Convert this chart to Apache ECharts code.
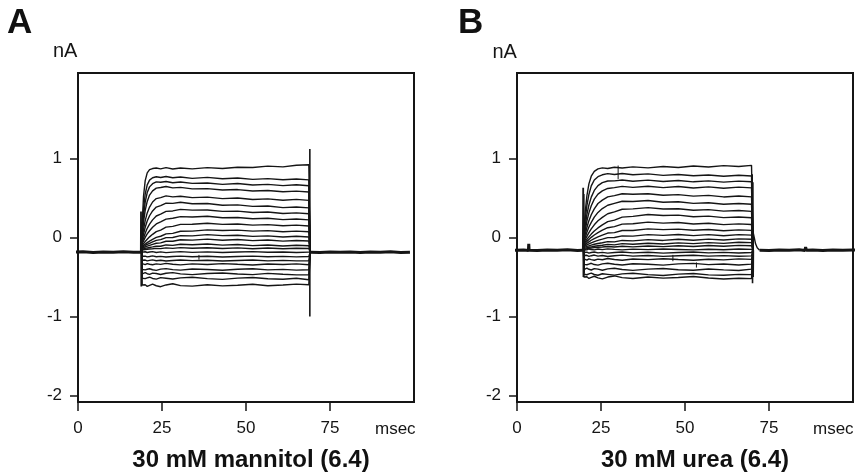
<!DOCTYPE html>
<html><head><meta charset="utf-8">
<script src="https://cdn.jsdelivr.net/npm/echarts@6/dist/echarts.min.js"></script>
<style>html,body{margin:0;padding:0;background:#fff}#c{width:857px;height:476px}</style>
</head><body><div id="c"></div>
<script>
const FONT = '"Liberation Sans", Arial, Helvetica, sans-serif';
const INK = '#151515';

// ---- axes ----
const yTicks = [-2, -1, 0, 1];
const xTicks = [0, 25, 50, 75];
const yRange = [-2.08, 2.08];
const xRange = [0, 100];
const panelLetters = ['A', 'B'];
const panelTitles = ['30 mM mannitol (6.4)', '30 mM urea (6.4)'];
const yUnit = 'nA';
const xUnit = 'msec';

// ---- Panel A (30 mM mannitol) ----
const pulseA = [19.0, 69.1];
const holdA = -0.185;
const timesA = [19.1, 19.5, 20, 20.6, 21.3, 22.2, 23.3, 24.6, 26.2, 28.2, 30.5, 34, 38.5, 43, 47.5, 52, 56.5, 61, 65, 68.7];
const tracesA = [
  [0.17, 0.52, 0.72, 0.817, 0.858, 0.872, 0.878, 0.868, 0.884, 0.866, 0.878, 0.868, 0.884, 0.872, 0.889, 0.886, 0.902, 0.893, 0.914, 0.92],
  [0.11, 0.365, 0.55, 0.665, 0.725, 0.755, 0.768, 0.758, 0.772, 0.755, 0.765, 0.748, 0.76, 0.743, 0.753, 0.735, 0.745, 0.73, 0.74, 0.728],
  [0.07, 0.277, 0.447, 0.568, 0.64, 0.68, 0.703, 0.698, 0.708, 0.692, 0.702, 0.684, 0.69, 0.672, 0.683, 0.664, 0.672, 0.656, 0.667, 0.655],
  [0.027, 0.194, 0.342, 0.456, 0.536, 0.59, 0.625, 0.632, 0.645, 0.628, 0.634, 0.615, 0.618, 0.6, 0.606, 0.588, 0.595, 0.578, 0.587, 0.575],
  [-0.005, 0.104, 0.213, 0.311, 0.385, 0.449, 0.492, 0.505, 0.526, 0.514, 0.522, 0.504, 0.51, 0.492, 0.5, 0.481, 0.489, 0.471, 0.482, 0.47],
  [-0.04, 0.043, 0.13, 0.208, 0.275, 0.336, 0.385, 0.404, 0.434, 0.432, 0.446, 0.426, 0.43, 0.408, 0.413, 0.393, 0.398, 0.378, 0.386, 0.375],
  [-0.064, -0.009, 0.054, 0.116, 0.169, 0.223, 0.272, 0.295, 0.33, 0.336, 0.356, 0.346, 0.348, 0.33, 0.334, 0.316, 0.322, 0.304, 0.311, 0.3],
  [-0.079, -0.043, 0.001, 0.045, 0.085, 0.129, 0.171, 0.197, 0.233, 0.243, 0.264, 0.259, 0.268, 0.249, 0.253, 0.238, 0.243, 0.226, 0.234, 0.223],
  [-0.104, -0.078, -0.051, -0.022, 0.008, 0.04, 0.075, 0.094, 0.131, 0.141, 0.166, 0.167, 0.181, 0.166, 0.171, 0.157, 0.163, 0.148, 0.156, 0.145],
  [-0.116, -0.1, -0.083, -0.065, -0.045, -0.023, 0.001, 0.016, 0.046, 0.052, 0.079, 0.08, 0.097, 0.088, 0.093, 0.08, 0.087, 0.073, 0.081, 0.072],
  [-0.127, -0.115, -0.101, -0.088, -0.073, -0.056, -0.037, -0.027, -0.002, 0.0, 0.023, 0.021, 0.037, 0.024, 0.029, 0.014, 0.021, 0.006, 0.015, 0.006],
  [-0.138, -0.129, -0.12, -0.11, -0.099, -0.087, -0.073, -0.068, -0.047, -0.048, -0.029, -0.033, -0.02, -0.034, -0.026, -0.04, -0.032, -0.046, -0.037, -0.045],
  [-0.149, -0.144, -0.138, -0.132, -0.126, -0.119, -0.11, -0.11, -0.094, -0.099, -0.085, -0.092, -0.083, -0.097, -0.089, -0.103, -0.094, -0.107, -0.098, -0.105],
  [-0.158, -0.155, -0.152, -0.148, -0.145, -0.142, -0.137, -0.141, -0.131, -0.137, -0.128, -0.136, -0.129, -0.14, -0.131, -0.142, -0.133, -0.143, -0.135, -0.14],
  [-0.183, -0.188, -0.18, -0.19, -0.184, -0.178, -0.189, -0.182, -0.191, -0.185, -0.179, -0.188, -0.182, -0.19, -0.184, -0.178, -0.187, -0.183, -0.19, -0.185],
  [-0.238, -0.242, -0.236, -0.245, -0.24, -0.233, -0.244, -0.238, -0.247, -0.24, -0.236, -0.243, -0.238, -0.246, -0.24, -0.235, -0.243, -0.239, -0.245, -0.24],
  [-0.288, -0.292, -0.285, -0.296, -0.29, -0.283, -0.294, -0.288, -0.297, -0.29, -0.284, -0.293, -0.287, -0.298, -0.29, -0.285, -0.295, -0.289, -0.296, -0.294],
  [-0.33, -0.337, -0.342, -0.33, -0.338, -0.345, -0.333, -0.34, -0.327, -0.338, -0.346, -0.334, -0.341, -0.33, -0.339, -0.347, -0.336, -0.342, -0.333, -0.345],
  [-0.405, -0.398, -0.41, -0.402, -0.395, -0.408, -0.415, -0.4, -0.393, -0.406, -0.412, -0.399, -0.404, -0.414, -0.401, -0.396, -0.409, -0.403, -0.412, -0.408],
  [-0.46, -0.452, -0.445, -0.458, -0.466, -0.45, -0.455, -0.468, -0.452, -0.444, -0.46, -0.47, -0.455, -0.448, -0.462, -0.469, -0.454, -0.465, -0.473, -0.471],
  [-0.515, -0.506, -0.52, -0.51, -0.502, -0.518, -0.526, -0.508, -0.515, -0.525, -0.51, -0.503, -0.52, -0.53, -0.514, -0.506, -0.522, -0.528, -0.516, -0.534],
  [-0.6, -0.612, -0.598, -0.618, -0.605, -0.59, -0.61, -0.622, -0.6, -0.585, -0.608, -0.615, -0.598, -0.612, -0.603, -0.592, -0.61, -0.6, -0.59, -0.597]
];
const basePreA = [[-1.6, -0.185], [1.5, -0.181], [4.5, -0.189], [7.5, -0.183], [10.5, -0.188], [13.5, -0.181], [16.5, -0.187], [18.8, -0.185]];
const basePostA = [[69.1, -0.185], [72, -0.189], [75, -0.182], [78, -0.188], [81, -0.183], [84, -0.19], [87, -0.183], [90, -0.187], [93, -0.181], [96, -0.189], [98.8, -0.185]];
const onsetA = [[18.7, -0.185], [18.75, 0.33], [18.85, -0.62], [18.95, 0.2], [19.0, -0.5], [19.05, -0.185]];
const offsetA = [[69.0, 1.12], [69.0, -1.0]];
const artifactsA = [[36.0, -0.22, -0.28]];

// ---- Panel B (30 mM urea) ----
const pulseB = [19.8, 70.3];
const holdB = -0.16;
const timesB = [19.9, 20.3, 20.8, 21.4, 22.1, 23, 24.1, 25.4, 27, 29, 31.3, 34.5, 39, 43.5, 48, 52.5, 57, 61.5, 66, 69.8];
const tracesB = [
  [0.077, 0.323, 0.528, 0.678, 0.775, 0.836, 0.867, 0.88, 0.872, 0.889, 0.878, 0.893, 0.88, 0.898, 0.886, 0.904, 0.892, 0.909, 0.898, 0.912],
  [0.037, 0.229, 0.403, 0.544, 0.652, 0.727, 0.769, 0.793, 0.808, 0.796, 0.81, 0.793, 0.804, 0.786, 0.797, 0.78, 0.791, 0.775, 0.787, 0.778],
  [0.001, 0.144, 0.289, 0.411, 0.511, 0.595, 0.656, 0.694, 0.714, 0.716, 0.727, 0.712, 0.725, 0.708, 0.72, 0.704, 0.716, 0.7, 0.713, 0.705],
  [-0.019, 0.089, 0.207, 0.311, 0.402, 0.485, 0.548, 0.589, 0.62, 0.631, 0.647, 0.634, 0.648, 0.63, 0.644, 0.626, 0.64, 0.623, 0.637, 0.628],
  [-0.038, 0.039, 0.126, 0.213, 0.287, 0.362, 0.43, 0.473, 0.514, 0.53, 0.553, 0.546, 0.554, 0.534, 0.542, 0.523, 0.533, 0.513, 0.525, 0.514],
  [-0.054, 0.001, 0.066, 0.132, 0.192, 0.257, 0.317, 0.366, 0.408, 0.432, 0.458, 0.456, 0.467, 0.446, 0.452, 0.432, 0.44, 0.42, 0.43, 0.42],
  [-0.071, -0.028, 0.014, 0.061, 0.108, 0.16, 0.211, 0.254, 0.3, 0.324, 0.357, 0.362, 0.378, 0.36, 0.364, 0.345, 0.352, 0.333, 0.341, 0.33],
  [-0.082, -0.055, -0.024, 0.008, 0.043, 0.082, 0.121, 0.16, 0.2, 0.22, 0.258, 0.267, 0.291, 0.278, 0.283, 0.263, 0.27, 0.251, 0.26, 0.25],
  [-0.094, -0.073, -0.049, -0.025, 0.002, 0.032, 0.062, 0.092, 0.124, 0.137, 0.169, 0.173, 0.194, 0.182, 0.189, 0.171, 0.18, 0.163, 0.172, 0.165],
  [-0.106, -0.09, -0.073, -0.055, -0.035, -0.013, 0.009, 0.031, 0.056, 0.062, 0.089, 0.089, 0.109, 0.099, 0.106, 0.091, 0.101, 0.086, 0.097, 0.09],
  [-0.117, -0.106, -0.094, -0.081, -0.067, -0.052, -0.036, -0.021, -0.002, 0.0, 0.021, 0.018, 0.036, 0.027, 0.038, 0.024, 0.036, 0.022, 0.036, 0.03],
  [-0.128, -0.121, -0.113, -0.105, -0.096, -0.086, -0.076, -0.066, -0.052, -0.055, -0.037, -0.043, -0.027, -0.037, -0.023, -0.034, -0.02, -0.031, -0.017, -0.022],
  [-0.139, -0.134, -0.129, -0.124, -0.118, -0.111, -0.105, -0.098, -0.087, -0.093, -0.078, -0.086, -0.072, -0.082, -0.068, -0.078, -0.065, -0.074, -0.06, -0.065],
  [-0.148, -0.144, -0.14, -0.136, -0.132, -0.128, -0.124, -0.121, -0.113, -0.12, -0.11, -0.118, -0.108, -0.116, -0.104, -0.113, -0.102, -0.111, -0.099, -0.105],
  [-0.152, -0.147, -0.155, -0.145, -0.151, -0.157, -0.146, -0.153, -0.144, -0.15, -0.156, -0.147, -0.153, -0.145, -0.151, -0.157, -0.148, -0.154, -0.146, -0.15],
  [-0.188, -0.194, -0.185, -0.197, -0.19, -0.183, -0.195, -0.188, -0.198, -0.19, -0.184, -0.194, -0.187, -0.197, -0.19, -0.184, -0.195, -0.188, -0.196, -0.19],
  [-0.228, -0.235, -0.225, -0.238, -0.23, -0.222, -0.236, -0.228, -0.24, -0.23, -0.223, -0.235, -0.227, -0.239, -0.23, -0.224, -0.236, -0.229, -0.238, -0.232],
  [-0.27, -0.28, -0.286, -0.27, -0.279, -0.288, -0.273, -0.281, -0.266, -0.278, -0.287, -0.272, -0.28, -0.268, -0.279, -0.288, -0.275, -0.283, -0.27, -0.276],
  [-0.34, -0.33, -0.345, -0.336, -0.326, -0.342, -0.35, -0.333, -0.325, -0.338, -0.347, -0.332, -0.338, -0.349, -0.334, -0.327, -0.343, -0.336, -0.347, -0.337],
  [-0.405, -0.396, -0.388, -0.402, -0.411, -0.394, -0.4, -0.414, -0.397, -0.388, -0.405, -0.416, -0.4, -0.392, -0.407, -0.415, -0.399, -0.41, -0.418, -0.4],
  [-0.465, -0.455, -0.471, -0.46, -0.451, -0.468, -0.477, -0.458, -0.466, -0.476, -0.46, -0.452, -0.47, -0.48, -0.463, -0.455, -0.472, -0.478, -0.466, -0.47],
  [-0.5, -0.513, -0.497, -0.518, -0.505, -0.49, -0.51, -0.523, -0.5, -0.486, -0.508, -0.518, -0.5, -0.514, -0.505, -0.494, -0.512, -0.525, -0.515, -0.52]
];
const basePreB = [[-0.7, -0.16], [2, -0.157], [3.4, -0.163], [3.5, -0.08], [3.6, -0.16], [6, -0.164], [9, -0.157], [12, -0.162], [15, -0.156], [18, -0.163], [19.6, -0.16]];
const basePostB = [[72.2, -0.16], [75, -0.163], [78, -0.157], [81, -0.162], [84, -0.156], [85.7, -0.163], [85.9, -0.12], [86.1, -0.16], [88, -0.158], [91, -0.163], [94, -0.157], [97, -0.162], [100, -0.158], [101.5, -0.16]];
const onsetB = [[19.6, -0.16], [19.7, 0.63], [19.78, -0.5], [19.86, 0.55], [19.94, -0.45], [20.0, -0.16]];
const offsetB = [[70.0, 0.8], [70.1, -0.58], [70.2, 0.7], [70.3, -0.5], [70.35, -0.16]];
const tailB = [[70.3, 0.06], [70.6, 0.0], [71.0, -0.08], [71.5, -0.13], [72.2, -0.16]];
const artifactsB = [[30.1, 0.91, 0.74], [46.4, -0.22, -0.3], [53.4, -0.315, -0.38]];

// ---- build ----
function lineSeries(g, data, width, clip) {
  return { type: 'line', xAxisIndex: g, yAxisIndex: g, data: data, symbol: 'none',
    lineStyle: { width: width, color: INK }, silent: true, animation: false, clip: clip !== false, z: 3 };
}
function panelSeries(g, times, traces, pulse, hold, pre, post, onset, offset, extra, artifacts) {
  const out = [];
  traces.forEach(vals => {
    const d = [[pulse[0], hold]];
    times.forEach((t, i) => d.push([t, vals[i]]));
    d.push([pulse[1], hold]);
    out.push(lineSeries(g, d, 1.4));
  });
  out.push(lineSeries(g, pre, 3, false));
  out.push(lineSeries(g, post, 3, false));
  out.push(lineSeries(g, onset, 1.8));
  out.push(lineSeries(g, offset, 1.6));
  extra.forEach(e => out.push(lineSeries(g, e, 1.4)));
  artifacts.forEach(a => out.push(lineSeries(g, [[a[0], a[1]], [a[0], a[2]]], 1)));
  return out;
}

const grids = [
  { left: 78, top: 73, width: 336, height: 329 },
  { left: 517, top: 73, width: 336, height: 329 }
];
const labelStyle = { fontSize: 17, color: INK, fontFamily: FONT };

const option = {
  animation: false,
  backgroundColor: '#fff',
  grid: grids.map(g => Object.assign({ show: true, borderColor: INK, borderWidth: 2, backgroundColor: 'transparent' }, g)),
  xAxis: grids.map((g, i) => ({
    type: 'value', gridIndex: i, min: xRange[0], max: xRange[1],
    axisLine: { show: true, onZero: false, lineStyle: { color: INK, width: 2 } },
    axisTick: { show: true, length: 9, customValues: xTicks, lineStyle: { color: INK, width: 1.5 } },
    axisLabel: Object.assign({ customValues: xTicks, margin: 18 }, labelStyle),
    splitLine: { show: false }
  })),
  yAxis: grids.map((g, i) => ({
    type: 'value', gridIndex: i, min: yRange[0], max: yRange[1],
    axisLine: { show: true, onZero: false, lineStyle: { color: INK, width: 2 } },
    axisTick: { show: true, length: 8, customValues: yTicks, lineStyle: { color: INK, width: 1.5 } },
    axisLabel: Object.assign({ customValues: yTicks, margin: 16 }, labelStyle),
    splitLine: { show: false }
  })),
  series: [].concat(
    panelSeries(0, timesA, tracesA, pulseA, holdA, basePreA, basePostA, onsetA, offsetA, [], artifactsA),
    panelSeries(1, timesB, tracesB, pulseB, holdB, basePreB, basePostB, onsetB, offsetB, [tailB], artifactsB)
  ),
  graphic: [
    { type: 'text', x: 7, y: 23, style: { text: panelLetters[0], font: 'bold 35px ' + FONT, fill: '#111', align: 'left', verticalAlign: 'middle', textAlign: 'left', textVerticalAlign: 'middle' } },
    { type: 'text', x: 458, y: 23, style: { text: panelLetters[1], font: 'bold 35px ' + FONT, fill: '#111', align: 'left', verticalAlign: 'middle', textAlign: 'left', textVerticalAlign: 'middle' } },
    { type: 'text', x: 53, y: 51.5, style: { text: yUnit, font: '20px ' + FONT, fill: INK, align: 'left', verticalAlign: 'middle', textAlign: 'left', textVerticalAlign: 'middle' } },
    { type: 'text', x: 492.5, y: 52, style: { text: yUnit, font: '20px ' + FONT, fill: INK, align: 'left', verticalAlign: 'middle', textAlign: 'left', textVerticalAlign: 'middle' } },
    { type: 'text', x: 375, y: 429, style: { text: xUnit, font: '17px ' + FONT, fill: INK, align: 'left', verticalAlign: 'middle', textAlign: 'left', textVerticalAlign: 'middle' } },
    { type: 'text', x: 813, y: 429, style: { text: xUnit, font: '17px ' + FONT, fill: INK, align: 'left', verticalAlign: 'middle', textAlign: 'left', textVerticalAlign: 'middle' } },
    { type: 'text', x: 251, y: 460, style: { text: panelTitles[0], font: 'bold 24px ' + FONT, fill: '#111', align: 'center', verticalAlign: 'middle', textAlign: 'center', textVerticalAlign: 'middle' } },
    { type: 'text', x: 695, y: 460, style: { text: panelTitles[1], font: 'bold 24px ' + FONT, fill: '#111', align: 'center', verticalAlign: 'middle', textAlign: 'center', textVerticalAlign: 'middle' } }
  ]
};

const chart = echarts.init(document.getElementById('c'), null, { renderer: 'canvas' });
chart.setOption(option);
</script>
</body></html>
